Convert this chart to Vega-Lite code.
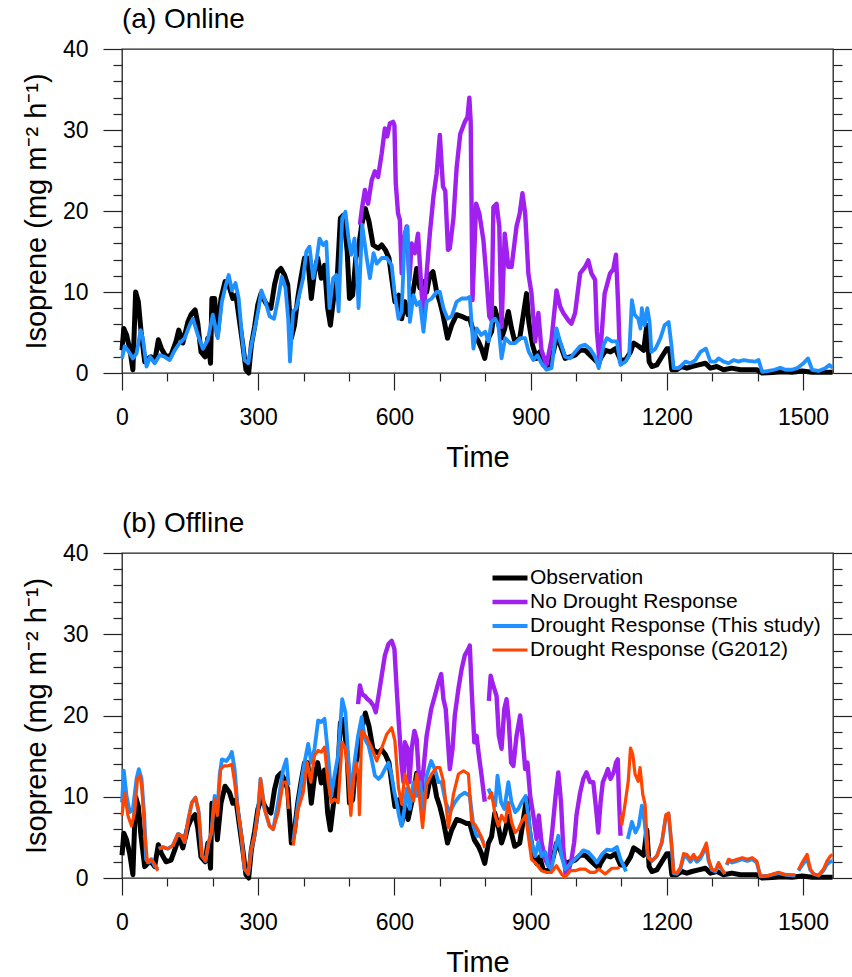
{
"$schema": "https://vega.github.io/schema/vega-lite/v6.json",
"padding": {"left": 21, "top": 5, "right": 0, "bottom": 0},
"config": {
 "font": "Liberation Sans",
 "view": {"stroke": "#222", "strokeWidth": 1.3},
 "axis": {"domain": false, "grid": false, "tickColor": "#222", "tickWidth": 1.2, "labelColor": "#000", "titleColor": "#000", "labelFont": "Liberation Sans", "titleFont": "Liberation Sans", "titleFontWeight": "normal", "labelFontSize": 23, "titleFontSize": 29, "labelFlush": false, "labelOverlap": false},
 "title": {"fontSize": 28, "fontWeight": "normal", "anchor": "start", "frame": "group", "font": "Liberation Sans", "offset": 0, "color": "#000"},
 "line": {"invalid": "break-paths-filter-domains", "strokeJoin": "round", "strokeCap": "butt"}
},
"datasets": {
 "obs": [
{"s":"O","t":0,"v":2.8},{"s":"O","t":4,"v":5.5},{"s":"O","t":10,"v":4.7},{"s":"O","t":17,"v":3.0},{"s":"O","t":24,"v":0.4},{"s":"O","t":30,"v":10.0},{"s":"O","t":36,"v":8.8},{"s":"O","t":42,"v":5.1},{"s":"O","t":50,"v":1.4},{"s":"O","t":57,"v":1.8},{"s":"O","t":64,"v":2.0},{"s":"O","t":72,"v":1.4},{"s":"O","t":80,"v":4.1},{"s":"O","t":87,"v":3.0},{"s":"O","t":97,"v":2.0},{"s":"O","t":108,"v":2.2},{"s":"O","t":119,"v":3.9},{"s":"O","t":125,"v":5.3},{"s":"O","t":134,"v":3.7},{"s":"O","t":145,"v":6.3},{"s":"O","t":152,"v":7.2},{"s":"O","t":161,"v":7.8},{"s":"O","t":167,"v":6.1},{"s":"O","t":174,"v":2.6},{"s":"O","t":183,"v":2.0},{"s":"O","t":189,"v":4.3},{"s":"O","t":195,"v":1.2},{"s":"O","t":198,"v":9.2},{"s":"O","t":204,"v":9.2},{"s":"O","t":210,"v":4.7},{"s":"O","t":218,"v":9.2},{"s":"O","t":227,"v":11.3},{"s":"O","t":237,"v":10.5},{"s":"O","t":244,"v":9.2},{"s":"O","t":251,"v":9.6},{"s":"O","t":259,"v":6.3},{"s":"O","t":266,"v":3.5},{"s":"O","t":273,"v":0.4},{"s":"O","t":279,"v":0},{"s":"O","t":285,"v":3.5},{"s":"O","t":292,"v":5.7},{"s":"O","t":299,"v":8.4},{"s":"O","t":306,"v":9.8},{"s":"O","t":317,"v":8.6},{"s":"O","t":328,"v":8.0},{"s":"O","t":336,"v":10.9},{"s":"O","t":343,"v":12.5},{"s":"O","t":350,"v":12.9},{"s":"O","t":358,"v":12.1},{"s":"O","t":365,"v":10.9},{"s":"O","t":373,"v":4.3},{"s":"O","t":380,"v":5.9},{"s":"O","t":387,"v":9.2},{"s":"O","t":394,"v":11.7},{"s":"O","t":402,"v":14.2},{"s":"O","t":409,"v":14.2},{"s":"O","t":417,"v":9.2},{"s":"O","t":424,"v":12.5},{"s":"O","t":431,"v":14.2},{"s":"O","t":439,"v":11.7},{"s":"O","t":446,"v":13.3},{"s":"O","t":453,"v":8.0},{"s":"O","t":459,"v":5.9},{"s":"O","t":466,"v":9.2},{"s":"O","t":474,"v":11.7},{"s":"O","t":481,"v":19.1},{"s":"O","t":488,"v":19.5},{"s":"O","t":496,"v":15.0},{"s":"O","t":501,"v":9.2},{"s":"O","t":508,"v":9.6},{"s":"O","t":515,"v":14.2},{"s":"O","t":521,"v":15.5},{"s":"O","t":528,"v":18.3},{"s":"O","t":536,"v":20.3},{"s":"O","t":544,"v":18.7},{"s":"O","t":553,"v":15.8},{"s":"O","t":564,"v":15.4},{"s":"O","t":572,"v":15.8},{"s":"O","t":580,"v":15.2},{"s":"O","t":588,"v":14.2},{"s":"O","t":594,"v":11.7},{"s":"O","t":601,"v":8.8},{"s":"O","t":610,"v":9.6},{"s":"O","t":616,"v":6.7},{"s":"O","t":623,"v":8.8},{"s":"O","t":630,"v":7.2},{"s":"O","t":641,"v":10.0},{"s":"O","t":649,"v":12.9},{"s":"O","t":656,"v":10.5},{"s":"O","t":663,"v":11.3},{"s":"O","t":671,"v":10.0},{"s":"O","t":678,"v":12.1},{"s":"O","t":685,"v":12.5},{"s":"O","t":693,"v":10.0},{"s":"O","t":700,"v":8.8},{"s":"O","t":707,"v":7.2},{"s":"O","t":717,"v":4.3},{"s":"O","t":726,"v":5.9},{"s":"O","t":737,"v":7.2},{"s":"O","t":748,"v":7.0},{"s":"O","t":759,"v":6.7},{"s":"O","t":766,"v":6.7},{"s":"O","t":776,"v":4.7},{"s":"O","t":785,"v":3.9},{"s":"O","t":792,"v":3.0},{"s":"O","t":799,"v":1.8},{"s":"O","t":807,"v":4.3},{"s":"O","t":814,"v":5.1},{"s":"O","t":821,"v":8.0},{"s":"O","t":829,"v":6.3},{"s":"O","t":836,"v":4.3},{"s":"O","t":843,"v":5.5},{"s":"O","t":851,"v":7.6},{"s":"O","t":858,"v":5.5},{"s":"O","t":865,"v":3.9},{"s":"O","t":876,"v":4.3},{"s":"O","t":884,"v":7.2},{"s":"O","t":891,"v":9.8},{"s":"O","t":896,"v":6.3},{"s":"O","t":904,"v":3.5},{"s":"O","t":913,"v":1.8},{"s":"O","t":920,"v":2.6},{"s":"O","t":928,"v":1.0},{"s":"O","t":939,"v":0.8},{"s":"O","t":950,"v":2.6},{"s":"O","t":957,"v":4.3},{"s":"O","t":965,"v":3.5},{"s":"O","t":976,"v":1.8},{"s":"O","t":987,"v":2.0},{"s":"O","t":998,"v":2.2},{"s":"O","t":1009,"v":2.8},{"s":"O","t":1020,"v":2.8},{"s":"O","t":1031,"v":2.2},{"s":"O","t":1042,"v":1.6},{"s":"O","t":1050,"v":1.2},{"s":"O","t":1054,"v":1.8},{"s":"O","t":1065,"v":2.8},{"s":"O","t":1076,"v":2.6},{"s":"O","t":1087,"v":3.0},{"s":"O","t":1098,"v":1.6},{"s":"O","t":1109,"v":1.6},{"s":"O","t":1120,"v":2.6},{"s":"O","t":1127,"v":3.7},{"s":"O","t":1138,"v":3.3},{"s":"O","t":1149,"v":2.8},{"s":"O","t":1156,"v":5.9},{"s":"O","t":1161,"v":1.4},{"s":"O","t":1167,"v":0.8},{"s":"O","t":1178,"v":1.0},{"s":"O","t":1189,"v":2.0},{"s":"O","t":1200,"v":3.0},{"s":"O","t":1206,"v":3.0},{"s":"O","t":1211,"v":0.4},{"s":"O","t":1222,"v":0.4},{"s":"O","t":1233,"v":0.8},{"s":"O","t":1244,"v":0.6},{"s":"O","t":1255,"v":0.8},{"s":"O","t":1270,"v":1.0},{"s":"O","t":1285,"v":1.2},{"s":"O","t":1296,"v":0.6},{"s":"O","t":1310,"v":0.8},{"s":"O","t":1325,"v":0.4},{"s":"O","t":1343,"v":0.6},{"s":"O","t":1362,"v":0.4},{"s":"O","t":1380,"v":0.4},{"s":"O","t":1398,"v":0.4},{"s":"O","t":1410,"v":0},{"s":"O","t":1432,"v":0.05},{"s":"O","t":1454,"v":0.15},{"s":"O","t":1476,"v":0.1},{"s":"O","t":1498,"v":0.25},{"s":"O","t":1520,"v":0.1},{"s":"O","t":1542,"v":0.1},{"s":"O","t":1565,"v":0.1}
 ],
 "a": [
{"s":"N","t":524,"v":18.3},{"s":"N","t":528,"v":20.1},{"s":"N","t":535,"v":22.6},{"s":"N","t":542,"v":20.9},{"s":"N","t":550,"v":23.8},{"s":"N","t":557,"v":24.9},{"s":"N","t":564,"v":24.2},{"s":"N","t":572,"v":27.1},{"s":"N","t":579,"v":30.2},{"s":"N","t":584,"v":29.2},{"s":"N","t":590,"v":30.8},{"s":"N","t":597,"v":31.0},{"s":"N","t":600,"v":30.6},{"s":"N","t":603,"v":23.4},{"s":"N","t":608,"v":19.7},{"s":"N","t":612,"v":18.9},{"s":"N","t":616,"v":12.3},{"s":"N","t":621,"v":16.4},{"s":"N","t":627,"v":18.1},{"s":"N","t":633,"v":11.5},{"s":"N","t":638,"v":16.0},{"s":"N","t":645,"v":14.8},{"s":"N","t":652,"v":17.2},{"s":"N","t":660,"v":9.8},{"s":"N","t":665,"v":7.4},{"s":"N","t":671,"v":12.3},{"s":"N","t":678,"v":17.2},{"s":"N","t":686,"v":21.8},{"s":"N","t":693,"v":24.6},{"s":"N","t":700,"v":29.4},{"s":"N","t":707,"v":23.0},{"s":"N","t":712,"v":22.5},{"s":"N","t":718,"v":15.2},{"s":"N","t":722,"v":15.4},{"s":"N","t":730,"v":19.1},{"s":"N","t":737,"v":25.3},{"s":"N","t":745,"v":29.5},{"s":"N","t":755,"v":31.0},{"s":"N","t":761,"v":31.6},{"s":"N","t":765,"v":34.0},{"s":"N","t":768,"v":31.0},{"s":"N","t":772,"v":9.0},{"s":"N","t":780,"v":20.9},{"s":"N","t":787,"v":19.7},{"s":"N","t":796,"v":16.4},{"s":"N","t":802,"v":12.3},{"s":"N","t":809,"v":7.0},{"s":"N","t":814,"v":6.5},{"s":"N","t":818,"v":20.5},{"s":"N","t":825,"v":20.9},{"s":"N","t":831,"v":18.1},{"s":"N","t":836,"v":5.7},{"s":"N","t":843,"v":17.2},{"s":"N","t":851,"v":13.1},{"s":"N","t":858,"v":13.1},{"s":"N","t":869,"v":18.1},{"s":"N","t":876,"v":19.7},{"s":"N","t":882,"v":22.2},{"s":"N","t":888,"v":19.7},{"s":"N","t":895,"v":12.3},{"s":"N","t":902,"v":9.8},{"s":"N","t":910,"v":3.9},{"s":"N","t":917,"v":7.4},{"s":"N","t":924,"v":2.8},{"s":"N","t":935,"v":1.0},{"s":"N","t":946,"v":4.1},{"s":"N","t":957,"v":10.2},{"s":"N","t":965,"v":8.2},{"s":"N","t":972,"v":7.4},{"s":"N","t":983,"v":6.5},{"s":"N","t":990,"v":6.1},{"s":"N","t":998,"v":7.4},{"s":"N","t":1009,"v":12.3},{"s":"N","t":1020,"v":13.1},{"s":"N","t":1027,"v":13.9},{"s":"N","t":1034,"v":12.3},{"s":"N","t":1042,"v":11.5},{"s":"N","t":1046,"v":5.1},{"s":"N","t":1052,"v":1.3},{"s":"N","t":1063,"v":9.8},{"s":"N","t":1075,"v":12.3},{"s":"N","t":1082,"v":12.8},{"s":"N","t":1088,"v":14.6},{"s":"N","t":1093,"v":8.2},{"s":"N","t":1097,"v":1.2},
{"s":"T","t":0,"v":1.8},{"s":"T","t":6,"v":3.3},{"s":"T","t":13,"v":2.8},{"s":"T","t":24,"v":1.8},{"s":"T","t":32,"v":2.4},{"s":"T","t":41,"v":5.3},{"s":"T","t":46,"v":4.3},{"s":"T","t":54,"v":0.8},{"s":"T","t":62,"v":2.0},{"s":"T","t":72,"v":1.2},{"s":"T","t":83,"v":2.2},{"s":"T","t":94,"v":2.0},{"s":"T","t":105,"v":1.6},{"s":"T","t":116,"v":2.8},{"s":"T","t":127,"v":3.7},{"s":"T","t":138,"v":4.3},{"s":"T","t":149,"v":5.9},{"s":"T","t":156,"v":6.7},{"s":"T","t":167,"v":4.7},{"s":"T","t":178,"v":3.0},{"s":"T","t":189,"v":4.1},{"s":"T","t":200,"v":7.2},{"s":"T","t":211,"v":4.3},{"s":"T","t":220,"v":8.8},{"s":"T","t":228,"v":10.7},{"s":"T","t":235,"v":12.1},{"s":"T","t":242,"v":10.2},{"s":"T","t":250,"v":11.1},{"s":"T","t":257,"v":9.2},{"s":"T","t":264,"v":4.7},{"s":"T","t":270,"v":1.6},{"s":"T","t":278,"v":1.2},{"s":"T","t":285,"v":3.5},{"s":"T","t":294,"v":5.9},{"s":"T","t":301,"v":8.0},{"s":"T","t":307,"v":10.2},{"s":"T","t":316,"v":8.8},{"s":"T","t":325,"v":7.0},{"s":"T","t":335,"v":6.7},{"s":"T","t":344,"v":9.2},{"s":"T","t":352,"v":11.9},{"s":"T","t":360,"v":10.5},{"s":"T","t":366,"v":6.7},{"s":"T","t":370,"v":1.4},{"s":"T","t":377,"v":7.6},{"s":"T","t":384,"v":8.0},{"s":"T","t":391,"v":9.8},{"s":"T","t":399,"v":11.7},{"s":"T","t":406,"v":15.0},{"s":"T","t":413,"v":15.6},{"s":"T","t":421,"v":11.7},{"s":"T","t":428,"v":13.7},{"s":"T","t":435,"v":16.6},{"s":"T","t":443,"v":15.8},{"s":"T","t":450,"v":16.2},{"s":"T","t":457,"v":8.0},{"s":"T","t":465,"v":11.7},{"s":"T","t":472,"v":12.1},{"s":"T","t":477,"v":7.6},{"s":"T","t":485,"v":19.1},{"s":"T","t":492,"v":19.9},{"s":"T","t":499,"v":16.6},{"s":"T","t":505,"v":14.6},{"s":"T","t":512,"v":16.6},{"s":"T","t":518,"v":12.0},{"s":"T","t":521,"v":8.0},{"s":"T","t":529,"v":18.3},{"s":"T","t":539,"v":14.2},{"s":"T","t":546,"v":11.7},{"s":"T","t":554,"v":14.8},{"s":"T","t":561,"v":13.5},{"s":"T","t":572,"v":14.2},{"s":"T","t":583,"v":14.2},{"s":"T","t":594,"v":13.3},{"s":"T","t":601,"v":9.6},{"s":"T","t":609,"v":6.7},{"s":"T","t":616,"v":7.6},{"s":"T","t":623,"v":17.4},{"s":"T","t":629,"v":18.1},{"s":"T","t":634,"v":6.3},{"s":"T","t":642,"v":9.6},{"s":"T","t":649,"v":8.4},{"s":"T","t":656,"v":8.8},{"s":"T","t":664,"v":5.1},{"s":"T","t":671,"v":8.8},{"s":"T","t":682,"v":9.2},{"s":"T","t":693,"v":10.0},{"s":"T","t":700,"v":10.0},{"s":"T","t":708,"v":8.0},{"s":"T","t":717,"v":6.7},{"s":"T","t":726,"v":7.0},{"s":"T","t":737,"v":8.8},{"s":"T","t":748,"v":9.2},{"s":"T","t":759,"v":9.2},{"s":"T","t":766,"v":9.4},{"s":"T","t":774,"v":3.0},{"s":"T","t":781,"v":5.5},{"s":"T","t":791,"v":4.7},{"s":"T","t":800,"v":5.1},{"s":"T","t":807,"v":3.9},{"s":"T","t":814,"v":6.3},{"s":"T","t":822,"v":6.7},{"s":"T","t":829,"v":5.9},{"s":"T","t":836,"v":1.8},{"s":"T","t":844,"v":4.3},{"s":"T","t":855,"v":3.7},{"s":"T","t":866,"v":3.7},{"s":"T","t":877,"v":4.3},{"s":"T","t":888,"v":4.3},{"s":"T","t":896,"v":2.6},{"s":"T","t":906,"v":1.6},{"s":"T","t":915,"v":2.2},{"s":"T","t":924,"v":1.2},{"s":"T","t":935,"v":0.4},{"s":"T","t":946,"v":0.6},{"s":"T","t":957,"v":5.5},{"s":"T","t":965,"v":3.9},{"s":"T","t":976,"v":2.0},{"s":"T","t":987,"v":1.8},{"s":"T","t":998,"v":2.6},{"s":"T","t":1009,"v":3.3},{"s":"T","t":1020,"v":3.5},{"s":"T","t":1031,"v":3.0},{"s":"T","t":1042,"v":2.0},{"s":"T","t":1050,"v":0.6},{"s":"T","t":1061,"v":3.5},{"s":"T","t":1068,"v":4.3},{"s":"T","t":1079,"v":3.9},{"s":"T","t":1090,"v":3.9},{"s":"T","t":1098,"v":1.0},{"s":"T","t":1109,"v":1.4},{"s":"T","t":1117,"v":2.2},{"s":"T","t":1123,"v":9.0},{"s":"T","t":1129,"v":7.2},{"s":"T","t":1137,"v":6.7},{"s":"T","t":1142,"v":5.5},{"s":"T","t":1145,"v":8.0},{"s":"T","t":1151,"v":5.9},{"s":"T","t":1157,"v":8.0},{"s":"T","t":1162,"v":6.3},{"s":"T","t":1166,"v":2.6},{"s":"T","t":1175,"v":3.0},{"s":"T","t":1186,"v":4.3},{"s":"T","t":1195,"v":5.9},{"s":"T","t":1204,"v":6.3},{"s":"T","t":1210,"v":3.5},{"s":"T","t":1215,"v":0.6},{"s":"T","t":1226,"v":0.6},{"s":"T","t":1241,"v":1.4},{"s":"T","t":1252,"v":1.2},{"s":"T","t":1263,"v":1.6},{"s":"T","t":1274,"v":2.6},{"s":"T","t":1286,"v":3.0},{"s":"T","t":1296,"v":1.4},{"s":"T","t":1307,"v":1.4},{"s":"T","t":1314,"v":1.8},{"s":"T","t":1325,"v":1.4},{"s":"T","t":1336,"v":1.2},{"s":"T","t":1347,"v":1.6},{"s":"T","t":1358,"v":1.4},{"s":"T","t":1369,"v":1.6},{"s":"T","t":1380,"v":1.5},{"s":"T","t":1395,"v":1.4},{"s":"T","t":1402,"v":1.6},{"s":"T","t":1410,"v":0.15},{"s":"T","t":1424,"v":0.25},{"s":"T","t":1437,"v":0.4},{"s":"T","t":1450,"v":0.65},{"s":"T","t":1461,"v":0.4},{"s":"T","t":1476,"v":0.4},{"s":"T","t":1487,"v":0.6},{"s":"T","t":1501,"v":1.2},{"s":"T","t":1511,"v":1.8},{"s":"T","t":1520,"v":0.4},{"s":"T","t":1534,"v":0.25},{"s":"T","t":1549,"v":0.6},{"s":"T","t":1558,"v":1.0},{"s":"T","t":1565,"v":0.65}
 ],
 "b": [
{"s":"N","t":520,"v":21.4},{"s":"N","t":524,"v":23.7},{"s":"N","t":529,"v":22.6},{"s":"N","t":535,"v":22.4},{"s":"N","t":541,"v":22.0},{"s":"N","t":546,"v":21.8},{"s":"N","t":554,"v":21.2},{"s":"N","t":559,"v":20.4},{"s":"N","t":565,"v":22.4},{"s":"N","t":572,"v":24.9},{"s":"N","t":579,"v":27.4},{"s":"N","t":587,"v":28.8},{"s":"N","t":594,"v":29.2},{"s":"N","t":600,"v":28.2},{"s":"N","t":605,"v":23.3},{"s":"N","t":610,"v":18.8},{"s":"N","t":616,"v":13.8},{"s":"N","t":620,"v":11.8},{"s":"N","t":623,"v":16.7},{"s":"N","t":629,"v":15.9},{"s":"N","t":633,"v":11.8},{"s":"N","t":638,"v":15.9},{"s":"N","t":644,"v":18.1},{"s":"N","t":649,"v":17.1},{"s":"N","t":653,"v":13.4},{"s":"N","t":658,"v":10.5},{"s":"N","t":664,"v":13.4},{"s":"N","t":671,"v":17.5},{"s":"N","t":681,"v":20.8},{"s":"N","t":689,"v":22.4},{"s":"N","t":697,"v":24.1},{"s":"N","t":703,"v":25.1},{"s":"N","t":708,"v":22.0},{"s":"N","t":713,"v":20.8},{"s":"N","t":719,"v":15.9},{"s":"N","t":722,"v":13.4},{"s":"N","t":728,"v":15.9},{"s":"N","t":733,"v":20.0},{"s":"N","t":741,"v":23.3},{"s":"N","t":748,"v":25.7},{"s":"N","t":755,"v":27.4},{"s":"N","t":763,"v":28.2},{"s":"N","t":766,"v":28.6},{"s":"N","t":770,"v":23.3},{"s":"N","t":776,"v":16.7},{"s":"N","t":781,"v":17.5},{"s":"N","t":786,"v":15.1},{"s":"N","t":792,"v":12.6},{"s":"N","t":799,"v":9.4},{"s":"N","t":803,"v":null},{"s":"N","t":808,"v":21.8},{"s":"N","t":812,"v":24.9},{"s":"N","t":816,"v":24.0},{"s":"N","t":820,"v":23.3},{"s":"N","t":825,"v":22.4},{"s":"N","t":830,"v":17.5},{"s":"N","t":836,"v":15.9},{"s":"N","t":842,"v":20.8},{"s":"N","t":847,"v":22.0},{"s":"N","t":852,"v":19.2},{"s":"N","t":857,"v":14.2},{"s":"N","t":862,"v":13.8},{"s":"N","t":869,"v":17.5},{"s":"N","t":877,"v":20.0},{"s":"N","t":882,"v":17.5},{"s":"N","t":888,"v":13.4},{"s":"N","t":893,"v":14.2},{"s":"N","t":899,"v":10.1},{"s":"N","t":906,"v":7.7},{"s":"N","t":913,"v":4.8},{"s":"N","t":918,"v":7.7},{"s":"N","t":924,"v":4.4},{"s":"N","t":932,"v":2.3},{"s":"N","t":939,"v":1.5},{"s":"N","t":948,"v":6.0},{"s":"N","t":955,"v":10.1},{"s":"N","t":961,"v":13.0},{"s":"N","t":967,"v":9.3},{"s":"N","t":972,"v":3.6},{"s":"N","t":977,"v":0.5},{"s":"N","t":983,"v":0.7},{"s":"N","t":990,"v":2.3},{"s":"N","t":996,"v":4.4},{"s":"N","t":1001,"v":7.7},{"s":"N","t":1009,"v":10.5},{"s":"N","t":1016,"v":12.2},{"s":"N","t":1023,"v":13.0},{"s":"N","t":1031,"v":11.8},{"s":"N","t":1038,"v":11.8},{"s":"N","t":1045,"v":8.1},{"s":"N","t":1049,"v":5.6},{"s":"N","t":1054,"v":9.3},{"s":"N","t":1059,"v":11.8},{"s":"N","t":1065,"v":12.6},{"s":"N","t":1070,"v":13.4},{"s":"N","t":1076,"v":12.2},{"s":"N","t":1083,"v":13.0},{"s":"N","t":1088,"v":14.2},{"s":"N","t":1092,"v":14.6},{"s":"N","t":1095,"v":9.3},{"s":"N","t":1098,"v":5.2},
{"s":"T","t":0,"v":9.3},{"s":"T","t":4,"v":13.2},{"s":"T","t":10,"v":10.1},{"s":"T","t":17,"v":8.1},{"s":"T","t":24,"v":8.5},{"s":"T","t":32,"v":12.2},{"s":"T","t":37,"v":13.4},{"s":"T","t":43,"v":12.2},{"s":"T","t":49,"v":7.7},{"s":"T","t":53,"v":2.3},{"s":"T","t":59,"v":1.9},{"s":"T","t":65,"v":2.3},{"s":"T","t":72,"v":1.5},{"s":"T","t":79,"v":1.1},{"s":"T","t":80,"v":null},{"s":"T","t":81,"v":3.6},{"s":"T","t":90,"v":3.8},{"s":"T","t":101,"v":3.6},{"s":"T","t":112,"v":4.0},{"s":"T","t":123,"v":5.4},{"s":"T","t":131,"v":5.2},{"s":"T","t":138,"v":4.4},{"s":"T","t":145,"v":6.9},{"s":"T","t":154,"v":9.3},{"s":"T","t":162,"v":9.9},{"s":"T","t":169,"v":8.1},{"s":"T","t":176,"v":2.7},{"s":"T","t":184,"v":2.1},{"s":"T","t":191,"v":4.4},{"s":"T","t":197,"v":5.6},{"s":"T","t":204,"v":10.1},{"s":"T","t":210,"v":8.1},{"s":"T","t":215,"v":12.6},{"s":"T","t":220,"v":14.6},{"s":"T","t":230,"v":14.4},{"s":"T","t":237,"v":14.9},{"s":"T","t":242,"v":15.5},{"s":"T","t":248,"v":13.4},{"s":"T","t":255,"v":8.5},{"s":"T","t":263,"v":5.2},{"s":"T","t":270,"v":1.1},{"s":"T","t":278,"v":0.5},{"s":"T","t":285,"v":3.6},{"s":"T","t":292,"v":5.2},{"s":"T","t":300,"v":8.5},{"s":"T","t":305,"v":12.2},{"s":"T","t":314,"v":8.5},{"s":"T","t":325,"v":6.4},{"s":"T","t":333,"v":6.0},{"s":"T","t":344,"v":9.3},{"s":"T","t":355,"v":13.4},{"s":"T","t":362,"v":14.6},{"s":"T","t":367,"v":11.4},{"s":"T","t":372,"v":null},{"s":"T","t":377,"v":4.4},{"s":"T","t":388,"v":9.3},{"s":"T","t":395,"v":11.8},{"s":"T","t":402,"v":14.2},{"s":"T","t":410,"v":16.5},{"s":"T","t":417,"v":14.2},{"s":"T","t":424,"v":15.9},{"s":"T","t":432,"v":19.4},{"s":"T","t":439,"v":19.2},{"s":"T","t":446,"v":19.6},{"s":"T","t":454,"v":15.1},{"s":"T","t":461,"v":10.1},{"s":"T","t":468,"v":12.6},{"s":"T","t":476,"v":15.1},{"s":"T","t":485,"v":22.0},{"s":"T","t":492,"v":20.4},{"s":"T","t":498,"v":15.1},{"s":"T","t":505,"v":10.1},{"s":"T","t":512,"v":14.2},{"s":"T","t":520,"v":17.5},{"s":"T","t":528,"v":19.8},{"s":"T","t":535,"v":17.1},{"s":"T","t":543,"v":16.3},{"s":"T","t":550,"v":14.6},{"s":"T","t":557,"v":12.6},{"s":"T","t":565,"v":12.2},{"s":"T","t":572,"v":12.6},{"s":"T","t":579,"v":13.4},{"s":"T","t":587,"v":14.2},{"s":"T","t":594,"v":12.6},{"s":"T","t":600,"v":10.5},{"s":"T","t":605,"v":9.3},{"s":"T","t":610,"v":7.7},{"s":"T","t":616,"v":6.4},{"s":"T","t":622,"v":8.5},{"s":"T","t":627,"v":11.0},{"s":"T","t":634,"v":8.5},{"s":"T","t":642,"v":11.8},{"s":"T","t":649,"v":10.1},{"s":"T","t":656,"v":11.8},{"s":"T","t":664,"v":8.5},{"s":"T","t":671,"v":12.6},{"s":"T","t":681,"v":14.4},{"s":"T","t":689,"v":13.4},{"s":"T","t":697,"v":11.8},{"s":"T","t":704,"v":11.8},{"s":"T","t":713,"v":9.3},{"s":"T","t":722,"v":8.1},{"s":"T","t":733,"v":9.3},{"s":"T","t":744,"v":10.1},{"s":"T","t":755,"v":10.5},{"s":"T","t":766,"v":10.1},{"s":"T","t":774,"v":6.4},{"s":"T","t":781,"v":5.2},{"s":"T","t":789,"v":5.2},{"s":"T","t":796,"v":4.4},{"s":"T","t":802,"v":null},{"s":"T","t":807,"v":11.0},{"s":"T","t":814,"v":10.1},{"s":"T","t":822,"v":8.9},{"s":"T","t":827,"v":12.6},{"s":"T","t":835,"v":9.3},{"s":"T","t":842,"v":8.5},{"s":"T","t":851,"v":11.8},{"s":"T","t":858,"v":9.3},{"s":"T","t":866,"v":8.1},{"s":"T","t":873,"v":8.5},{"s":"T","t":880,"v":9.3},{"s":"T","t":889,"v":10.1},{"s":"T","t":895,"v":7.7},{"s":"T","t":902,"v":4.4},{"s":"T","t":910,"v":2.7},{"s":"T","t":917,"v":4.4},{"s":"T","t":924,"v":2.7},{"s":"T","t":932,"v":3.2},{"s":"T","t":939,"v":1.5},{"s":"T","t":946,"v":1.1},{"s":"T","t":954,"v":3.6},{"s":"T","t":961,"v":5.2},{"s":"T","t":968,"v":2.7},{"s":"T","t":976,"v":1.1},{"s":"T","t":983,"v":1.5},{"s":"T","t":994,"v":2.1},{"s":"T","t":1005,"v":2.7},{"s":"T","t":1016,"v":3.4},{"s":"T","t":1027,"v":3.2},{"s":"T","t":1038,"v":2.5},{"s":"T","t":1046,"v":1.9},{"s":"T","t":1057,"v":2.9},{"s":"T","t":1068,"v":3.5},{"s":"T","t":1079,"v":3.4},{"s":"T","t":1090,"v":3.8},{"s":"T","t":1098,"v":2.3},{"s":"T","t":1105,"v":1.5},{"s":"T","t":1110,"v":0.8},{"s":"T","t":1112,"v":null},{"s":"T","t":1114,"v":4.8},{"s":"T","t":1123,"v":6.9},{"s":"T","t":1131,"v":5.6},{"s":"T","t":1138,"v":6.4},{"s":"T","t":1145,"v":8.9},{"s":"T","t":1151,"v":6.9},{"s":"T","t":1158,"v":2.7},{"s":"T","t":1167,"v":2.1},{"s":"T","t":1178,"v":2.7},{"s":"T","t":1189,"v":4.3},{"s":"T","t":1198,"v":7.6},{"s":"T","t":1204,"v":7.8},{"s":"T","t":1210,"v":4.3},{"s":"T","t":1215,"v":0.6},{"s":"T","t":1222,"v":0.5},{"s":"T","t":1230,"v":1.1},{"s":"T","t":1237,"v":2.6},{"s":"T","t":1244,"v":2.6},{"s":"T","t":1252,"v":2.0},{"s":"T","t":1259,"v":2.6},{"s":"T","t":1266,"v":2.0},{"s":"T","t":1274,"v":2.4},{"s":"T","t":1281,"v":3.2},{"s":"T","t":1287,"v":4.0},{"s":"T","t":1292,"v":2.1},{"s":"T","t":1299,"v":1.0},{"s":"T","t":1307,"v":0.8},{"s":"T","t":1314,"v":1.7},{"s":"T","t":1321,"v":1.0},{"s":"T","t":1328,"v":0.5},{"s":"T","t":1330,"v":null},{"s":"T","t":1332,"v":1.6},{"s":"T","t":1336,"v":2.1},{"s":"T","t":1344,"v":1.9},{"s":"T","t":1355,"v":2.1},{"s":"T","t":1366,"v":2.3},{"s":"T","t":1377,"v":2.1},{"s":"T","t":1388,"v":2.3},{"s":"T","t":1398,"v":1.9},{"s":"T","t":1406,"v":0.2},{"s":"T","t":1424,"v":0.3},{"s":"T","t":1446,"v":0.6},{"s":"T","t":1461,"v":0.4},{"s":"T","t":1483,"v":0.3},{"s":"T","t":1486,"v":null},{"s":"T","t":1490,"v":0.9},{"s":"T","t":1498,"v":1.6},{"s":"T","t":1509,"v":2.4},{"s":"T","t":1516,"v":1.0},{"s":"T","t":1523,"v":0.5},{"s":"T","t":1534,"v":0.3},{"s":"T","t":1545,"v":0.9},{"s":"T","t":1553,"v":1.7},{"s":"T","t":1560,"v":2.0},{"s":"T","t":1565,"v":2.1},
{"s":"G","t":0,"v":7.7},{"s":"G","t":6,"v":10.5},{"s":"G","t":13,"v":7.7},{"s":"G","t":21,"v":6.4},{"s":"G","t":28,"v":8.1},{"s":"G","t":34,"v":12.2},{"s":"G","t":40,"v":12.6},{"s":"G","t":44,"v":11.0},{"s":"G","t":50,"v":5.6},{"s":"G","t":56,"v":1.9},{"s":"G","t":63,"v":2.3},{"s":"G","t":72,"v":1.7},{"s":"G","t":79,"v":0.9},{"s":"G","t":80,"v":null},{"s":"G","t":81,"v":3.6},{"s":"G","t":90,"v":3.8},{"s":"G","t":101,"v":3.6},{"s":"G","t":112,"v":4.0},{"s":"G","t":123,"v":5.4},{"s":"G","t":131,"v":5.2},{"s":"G","t":138,"v":4.4},{"s":"G","t":145,"v":6.9},{"s":"G","t":154,"v":9.3},{"s":"G","t":162,"v":9.9},{"s":"G","t":169,"v":8.1},{"s":"G","t":176,"v":2.7},{"s":"G","t":184,"v":2.1},{"s":"G","t":191,"v":4.4},{"s":"G","t":197,"v":5.6},{"s":"G","t":204,"v":9.7},{"s":"G","t":210,"v":7.7},{"s":"G","t":217,"v":13.4},{"s":"G","t":225,"v":13.8},{"s":"G","t":233,"v":13.8},{"s":"G","t":242,"v":14.0},{"s":"G","t":248,"v":11.8},{"s":"G","t":255,"v":8.5},{"s":"G","t":263,"v":5.2},{"s":"G","t":270,"v":1.1},{"s":"G","t":278,"v":0.5},{"s":"G","t":285,"v":3.6},{"s":"G","t":292,"v":5.2},{"s":"G","t":300,"v":8.5},{"s":"G","t":305,"v":12.2},{"s":"G","t":314,"v":8.5},{"s":"G","t":325,"v":6.4},{"s":"G","t":333,"v":6.0},{"s":"G","t":344,"v":8.1},{"s":"G","t":355,"v":11.8},{"s":"G","t":362,"v":11.8},{"s":"G","t":367,"v":8.5},{"s":"G","t":372,"v":null},{"s":"G","t":377,"v":4.0},{"s":"G","t":388,"v":8.5},{"s":"G","t":399,"v":10.5},{"s":"G","t":408,"v":14.2},{"s":"G","t":416,"v":11.8},{"s":"G","t":424,"v":15.1},{"s":"G","t":432,"v":15.7},{"s":"G","t":439,"v":15.5},{"s":"G","t":446,"v":16.1},{"s":"G","t":454,"v":11.8},{"s":"G","t":461,"v":9.3},{"s":"G","t":468,"v":9.7},{"s":"G","t":476,"v":9.3},{"s":"G","t":485,"v":16.7},{"s":"G","t":492,"v":15.9},{"s":"G","t":498,"v":12.6},{"s":"G","t":504,"v":7.7},{"s":"G","t":511,"v":12.6},{"s":"G","t":516,"v":14.2},{"s":"G","t":520,"v":12.8},{"s":"G","t":523,"v":7.8},{"s":"G","t":528,"v":18.1},{"s":"G","t":539,"v":17.3},{"s":"G","t":550,"v":16.0},{"s":"G","t":561,"v":14.4},{"s":"G","t":572,"v":16.0},{"s":"G","t":583,"v":17.7},{"s":"G","t":594,"v":18.5},{"s":"G","t":601,"v":16.9},{"s":"G","t":609,"v":11.1},{"s":"G","t":616,"v":9.1},{"s":"G","t":623,"v":12.8},{"s":"G","t":631,"v":11.1},{"s":"G","t":642,"v":9.5},{"s":"G","t":649,"v":12.8},{"s":"G","t":656,"v":9.5},{"s":"G","t":662,"v":6.2},{"s":"G","t":671,"v":11.5},{"s":"G","t":682,"v":12.8},{"s":"G","t":693,"v":13.6},{"s":"G","t":700,"v":13.6},{"s":"G","t":708,"v":11.9},{"s":"G","t":719,"v":6.2},{"s":"G","t":730,"v":10.3},{"s":"G","t":741,"v":12.8},{"s":"G","t":752,"v":13.2},{"s":"G","t":763,"v":12.8},{"s":"G","t":770,"v":7.0},{"s":"G","t":777,"v":6.6},{"s":"G","t":785,"v":5.8},{"s":"G","t":792,"v":5.0},{"s":"G","t":799,"v":3.7},{"s":"G","t":803,"v":null},{"s":"G","t":807,"v":9.7},{"s":"G","t":814,"v":10.5},{"s":"G","t":822,"v":7.7},{"s":"G","t":829,"v":6.4},{"s":"G","t":836,"v":7.7},{"s":"G","t":844,"v":6.9},{"s":"G","t":851,"v":9.3},{"s":"G","t":858,"v":6.9},{"s":"G","t":866,"v":5.6},{"s":"G","t":873,"v":6.0},{"s":"G","t":880,"v":6.9},{"s":"G","t":889,"v":7.7},{"s":"G","t":895,"v":5.2},{"s":"G","t":902,"v":2.3},{"s":"G","t":913,"v":1.7},{"s":"G","t":924,"v":0.9},{"s":"G","t":935,"v":0.7},{"s":"G","t":946,"v":0.7},{"s":"G","t":957,"v":1.5},{"s":"G","t":968,"v":0.5},{"s":"G","t":976,"v":0.1},{"s":"G","t":987,"v":0.9},{"s":"G","t":998,"v":0.9},{"s":"G","t":1009,"v":1.1},{"s":"G","t":1020,"v":1.1},{"s":"G","t":1031,"v":0.7},{"s":"G","t":1042,"v":0.7},{"s":"G","t":1050,"v":1.1},{"s":"G","t":1064,"v":0.5},{"s":"G","t":1079,"v":1.2},{"s":"G","t":1090,"v":1.2},{"s":"G","t":1096,"v":1.3},{"s":"G","t":1097.5,"v":null},{"s":"G","t":1099,"v":7.8},{"s":"G","t":1101,"v":6.6},{"s":"G","t":1108,"v":9.1},{"s":"G","t":1115,"v":11.9},{"s":"G","t":1120,"v":16.0},{"s":"G","t":1125,"v":15.2},{"s":"G","t":1130,"v":12.8},{"s":"G","t":1137,"v":11.9},{"s":"G","t":1141,"v":13.6},{"s":"G","t":1147,"v":10.3},{"s":"G","t":1152,"v":9.1},{"s":"G","t":1159,"v":2.5},{"s":"G","t":1167,"v":2.1},{"s":"G","t":1178,"v":2.7},{"s":"G","t":1189,"v":4.5},{"s":"G","t":1198,"v":7.8},{"s":"G","t":1204,"v":8.0},{"s":"G","t":1210,"v":4.5},{"s":"G","t":1215,"v":0.7},{"s":"G","t":1222,"v":0.6},{"s":"G","t":1230,"v":1.3},{"s":"G","t":1237,"v":3.0},{"s":"G","t":1244,"v":2.9},{"s":"G","t":1252,"v":2.3},{"s":"G","t":1259,"v":2.9},{"s":"G","t":1266,"v":2.3},{"s":"G","t":1274,"v":2.7},{"s":"G","t":1281,"v":3.5},{"s":"G","t":1287,"v":4.3},{"s":"G","t":1292,"v":2.3},{"s":"G","t":1299,"v":1.1},{"s":"G","t":1307,"v":0.9},{"s":"G","t":1314,"v":1.9},{"s":"G","t":1321,"v":1.1},{"s":"G","t":1328,"v":0.5},{"s":"G","t":1330,"v":null},{"s":"G","t":1332,"v":1.7},{"s":"G","t":1336,"v":2.3},{"s":"G","t":1344,"v":2.1},{"s":"G","t":1355,"v":2.3},{"s":"G","t":1366,"v":2.5},{"s":"G","t":1377,"v":2.3},{"s":"G","t":1388,"v":2.5},{"s":"G","t":1398,"v":2.1},{"s":"G","t":1406,"v":0.2},{"s":"G","t":1424,"v":0.3},{"s":"G","t":1446,"v":0.7},{"s":"G","t":1461,"v":0.4},{"s":"G","t":1483,"v":0.4},{"s":"G","t":1486,"v":null},{"s":"G","t":1490,"v":1.0},{"s":"G","t":1498,"v":1.9},{"s":"G","t":1509,"v":2.9},{"s":"G","t":1516,"v":1.1},{"s":"G","t":1523,"v":0.5},{"s":"G","t":1534,"v":0.3},{"s":"G","t":1545,"v":1.1},{"s":"G","t":1553,"v":2.1},{"s":"G","t":1560,"v":2.7},{"s":"G","t":1565,"v":2.9}
 ]
},
"spacing": 36,
"resolve": {"scale": {"color": "independent", "strokeWidth": "independent"}, "legend": {"color": "independent", "strokeWidth": "independent"}},
"vconcat": [
 {
  "title": {"text": "(a) Online"},
  "width": 711, "height": 324,
  "resolve": {"axis": {"y": "independent"}},
  "layer": [
   {"data": {"name": "obs"}, "mark": {"type": "line"},
    "encoding": {
     "x": {"field": "t", "type": "quantitative", "scale": {"domain": [0, 1566], "nice": false, "zero": false},
       "axis": {"title": "Time", "format": "d", "values": [0,100,200,300,400,500,600,700,800,900,1000,1100,1200,1300,1400,1500], "labelExpr": "datum.value % 300 === 0 ? datum.label : ''", "tickSize": {"condition": {"test": "datum.value % 300 === 0", "value": 17}, "value": 8}, "labelPadding": 16, "titlePadding": 14}},
     "y": {"field": "v", "type": "quantitative", "scale": {"domain": [0, 40], "nice": false},
       "axis": {"orient": "left", "title": "Isoprene (mg m⁻² h⁻¹)", "values": [0,2,4,6,8,10,12,14,16,18,20,22,24,26,28,30,32,34,36,38,40], "labelExpr": "datum.value % 10 === 0 ? datum.label : ''", "tickSize": {"condition": {"test": "datum.value % 10 === 0", "value": 19}, "value": 9}, "labelPadding": 15, "titlePadding": 11}},
     "color": {"field": "s", "type": "ordinal", "scale": {"domain": ["O","N","T","G"], "range": ["#000000","#A020F0","#1E90FF","#FF4500"]}, "legend": null},
     "strokeWidth": {"field": "s", "type": "ordinal", "scale": {"domain": ["O","N","T","G"], "range": [5, 3.2, 3, 1.8]}, "legend": null}
    }},
   {"data": {"name": "a"}, "transform": [{"filter": "datum.s === 'N'"}], "mark": {"type": "line"},
    "encoding": {
     "x": {"field": "t", "type": "quantitative"},
     "y": {"field": "v", "type": "quantitative", "axis": {"orient": "right", "title": null, "labels": false, "values": [0,2,4,6,8,10,12,14,16,18,20,22,24,26,28,30,32,34,36,38,40], "tickSize": {"condition": {"test": "datum.value % 10 === 0", "value": 19}, "value": 9}}},
     "color": {"field": "s", "type": "ordinal", "legend": null},
     "strokeWidth": {"field": "s", "type": "ordinal", "legend": null}
    }},
   {"data": {"name": "a"}, "transform": [{"filter": "datum.s === 'T'"}], "mark": {"type": "line"},
    "encoding": {
     "x": {"field": "t", "type": "quantitative"},
     "y": {"field": "v", "type": "quantitative", "axis": null},
     "color": {"field": "s", "type": "ordinal", "legend": null},
     "strokeWidth": {"field": "s", "type": "ordinal", "legend": null}
    }}
  ]
 },
 {
  "title": {"text": "(b) Offline"},
  "width": 711, "height": 325,
  "resolve": {"axis": {"y": "independent"}},
  "layer": [
   {"data": {"name": "obs"}, "mark": {"type": "line"},
    "encoding": {
     "x": {"field": "t", "type": "quantitative", "scale": {"domain": [0, 1566], "nice": false, "zero": false},
       "axis": {"title": "Time", "format": "d", "values": [0,100,200,300,400,500,600,700,800,900,1000,1100,1200,1300,1400,1500], "labelExpr": "datum.value % 300 === 0 ? datum.label : ''", "tickSize": {"condition": {"test": "datum.value % 300 === 0", "value": 17}, "value": 8}, "labelPadding": 16, "titlePadding": 14}},
     "y": {"field": "v", "type": "quantitative", "scale": {"domain": [0, 40], "nice": false},
       "axis": {"orient": "left", "title": "Isoprene (mg m⁻² h⁻¹)", "values": [0,2,4,6,8,10,12,14,16,18,20,22,24,26,28,30,32,34,36,38,40], "labelExpr": "datum.value % 10 === 0 ? datum.label : ''", "tickSize": {"condition": {"test": "datum.value % 10 === 0", "value": 19}, "value": 9}, "labelPadding": 15, "titlePadding": 11}},
     "color": {"field": "s", "type": "ordinal", "scale": {"domain": ["O","N","T","G"], "range": ["#000000","#A020F0","#1E90FF","#FF4500"]},
       "legend": {"orient": "none", "legendX": 368, "legendY": 15, "title": null, "symbolType": "stroke", "symbolSize": 1225, "clipHeight": 20, "labelFontSize": 21, "labelFont": "Liberation Sans", "labelColor": "#000", "labelLimit": 500, "labelOffset": 0, "rowPadding": 3, "padding": 0, "labelExpr": "datum.label === 'O' ? 'Observation' : datum.label === 'N' ? 'No Drought Response' : datum.label === 'T' ? 'Drought Response (This study)' : 'Drought Response (G2012)'"}},
     "strokeWidth": {"field": "s", "type": "ordinal", "scale": {"domain": ["O","N","T","G"], "range": [5, 3.2, 3, 1.8]},
       "legend": {"orient": "none", "legendX": 368, "legendY": 15, "title": null, "symbolType": "stroke", "symbolSize": 1225, "clipHeight": 20, "labelFontSize": 21, "labelFont": "Liberation Sans", "labelColor": "#000", "labelLimit": 500, "labelOffset": 0, "rowPadding": 3, "padding": 0, "labelExpr": "datum.label === 'O' ? 'Observation' : datum.label === 'N' ? 'No Drought Response' : datum.label === 'T' ? 'Drought Response (This study)' : 'Drought Response (G2012)'"}}
    }},
   {"data": {"name": "b"}, "transform": [{"filter": "datum.s === 'N'"}], "mark": {"type": "line"},
    "encoding": {
     "x": {"field": "t", "type": "quantitative"},
     "y": {"field": "v", "type": "quantitative", "axis": {"orient": "right", "title": null, "labels": false, "values": [0,2,4,6,8,10,12,14,16,18,20,22,24,26,28,30,32,34,36,38,40], "tickSize": {"condition": {"test": "datum.value % 10 === 0", "value": 19}, "value": 9}}},
     "color": {"field": "s", "type": "ordinal"},
     "strokeWidth": {"field": "s", "type": "ordinal"}
    }},
   {"data": {"name": "b"}, "transform": [{"filter": "datum.s === 'T'"}], "mark": {"type": "line"},
    "encoding": {
     "x": {"field": "t", "type": "quantitative"},
     "y": {"field": "v", "type": "quantitative", "axis": null},
     "color": {"field": "s", "type": "ordinal"},
     "strokeWidth": {"field": "s", "type": "ordinal"}
    }},
   {"data": {"name": "b"}, "transform": [{"filter": "datum.s === 'G'"}], "mark": {"type": "line"},
    "encoding": {
     "x": {"field": "t", "type": "quantitative"},
     "y": {"field": "v", "type": "quantitative", "axis": null},
     "color": {"field": "s", "type": "ordinal"},
     "strokeWidth": {"field": "s", "type": "ordinal"}
    }}
  ]
 }
]
}
